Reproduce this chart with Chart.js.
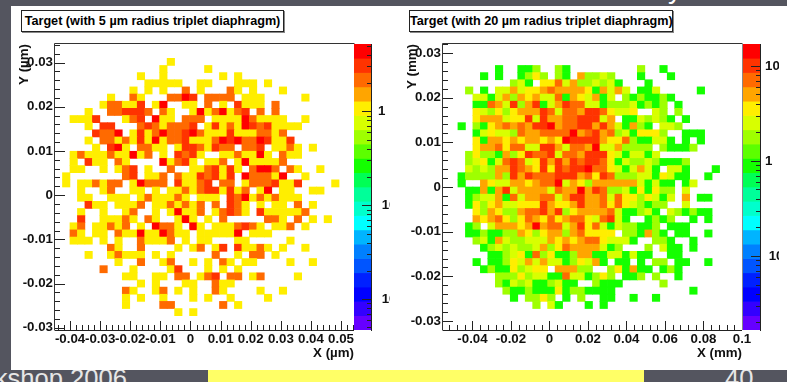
<!DOCTYPE html>
<html>
<head>
<meta charset="utf-8">
<title>Target</title>
<script src="https://cdn.jsdelivr.net/npm/chart.js@4"></script>
<style>
html, body { margin: 0; padding: 0; width: 787px; height: 382px; overflow: hidden; background: #54555f; font-family: "Liberation Sans", sans-serif; }
canvas { position: absolute; }
.panel { position: absolute; left: 11px; top: 6px; width: 776px; height: 364px; background: #fff; }
.box { position: absolute; top: 10px; height: 20px; line-height: 20px; border: 1px solid #222; box-shadow: 1px 1px 0 #888; background: #fff; font-weight: bold; font-size: 12.65px; color: #000; white-space: nowrap; text-align: center; }
.foot { position: absolute; top: 363px; font-size: 25.6px; line-height: 30px; color: #e6e6e6; white-space: nowrap; }
.strip { position: absolute; left: 208px; top: 369px; width: 436px; height: 13px; background: #ffff66; }
.top { position: absolute; left: 668px; top: -26px; font-size: 28px; line-height: 30px; color: #fff; }
</style>
</head>
<body>
<div class="top">y</div>
<div class="foot" style="right:660px">kshop 2006</div>
<div class="foot" style="left:725px">40</div>
<div class="strip"></div>
<div class="panel"></div>
<div class="box" style="left:21px;width:261px">Target (with 5 µm radius triplet diaphragm)</div>
<div class="box" style="left:409px;width:262px">Target (with 20 µm radius triplet diaphragm)</div>
<canvas id="heatLeft" width="360" height="364" style="left:11px;top:6px"></canvas>
<canvas id="barLeft" width="36" height="364" style="left:354px;top:6px"></canvas>
<canvas id="heatRight" width="360" height="364" style="left:400px;top:6px"></canvas>
<canvas id="barRight" width="36" height="364" style="left:743px;top:6px"></canvas>
<script>
// counts per bin, top row first, one char per column ('.' = empty, hex digit = count)
const leftRows = [
    '.......... .......... .......... ..........',
    '.......... .......... .......... ..........',
    '.......... .....1.... .......... ..........',
    '.......... ....1..... 1......... ..........',
    '.......... .1..1..... ..1.1..... ..........',
    '.......... ..11111..1 1...111.1. ..........',
    '.......... 1.1.1..2.1 ...21.1... 1.........',
    '.......1.. 21...2243. 2222.111.. ...1......',
    '......1221 13.14..11. 2.1.3111.2 ..........',
    '....1..223 332.21..14 124123.2.2 ..........',
    '..1113...1 23.411.222 .111142111 1..1......',
    '....1.33.. .23212223. 1312143231 111.......',
    '.....3224. 1312422342 1113111221 2.........',
    '....1.2212 1314122311 1243422431 13........',
    '.....1.341 .2211.1332 1322.223.1 121.1.....',
    '..12111211 412.1.3231 ..1121141. 211.......',
    '..1.311.21 ....41231. 112.141111 2.........',
    '..11..1.12 3.1..2..11 23131.2442 .21..1....',
    '.1.......2 3.112.2113 2313.42221 4..1......',
    '.1.112122. 14222.3112 3.22.12223 113....1..',
    '...1..12.. 11.1.11212 331312.14. 11..11....',
    '...11..111 .1211121.1 11.3241212 111.......',
    '....311.11 12.1121212 .2.321.1.1 1.2.1.....',
    '...1..1..1 2..1.14112 .12321.311 1112......',
    '...3..1112 1.21..141. 1.2.....22 1.2.1.1...',
    '..12.11212 .1.4221.41 .1112321.1 12.1......',
    '..21.11.21 14114211.1 11114.111. ..........',
    '..111.1.1. .21112.1.1 1...11.... .1........',
    '.......21. .2....1.12 .13.31121. 1..1......',
    '....1..121 11.1.1.... .2..1.22.1 ..........',
    '........1. .2..12..1. 1.21.11... .1..1.....',
    '......2... 1....13... 1.1.1..... ..........',
    '.........1 1..11.22.1 23.22.12.. ..1.......',
    '.......... .1.1...11. .211...... ..........',
    '.........2 1..12.1.1. .21....1.. 1.........',
    '.........1 .1..1...1. 1..1....1. ..........',
    '.........1 ....22.... ..2.1..... ..........',
    '.......... ......1.1. .......... ..........',
    '.......... .......... .......... ..........',
    '.......... .......... .......... ..........'
];
const rightRows = [
    '.......... .......... .......... ..........',
    '.......... .......... .......... ..........',
    '.......... .......... .......... ..........',
    '.......1.. 112..21... ......2..1 ..........',
    '.....1.1.. 1242.21.52 232...1... 1.........',
    '.........2 31.4473522 3231...1.. ..........',
    '...2.1.335 3445755554 15353.113. ....1.....',
    '....331352 5453371543 513.212112 1.........',
    '....117539 2591359773 3122231212 .1........',
    '....432424 5559737759 974334..32 .2........',
    '....455534 4939557799 935.113232 1.1.......',
    '..1.214575 7599d57799 59531521.3 32........',
    '....134332 7557777d57 9572314442 ..111.....',
    '....415545 455454d999 9544721133 1.1.1.....',
    '....455747 7339953775 d3352222.2 1112......',
    '...2422152 4977937759 994313313. ..........',
    '...2341379 7349595979 9741322321 112.......',
    '...3232559 754949799d 774313531. 331...1...',
    '..12222529 5977799957 4972223314 311..1....',
    '..1..54335 54577d3542 5555553131 1.13......',
    '...1151593 55553755d5 9722314142 2.3.......',
    '...1233517 3557735995 5737442431 3.5.11....',
    '...1424533 4449544595 5747432122 ..3.......',
    '....425422 5779592455 557311231. 321211....',
    '....545742 4754745774 37931..121 2..1.1....',
    '...12.3555 45d5773594 731322112. 111.......',
    '...1121122 5424552574 444.221521 .11..1....',
    '....231532 2333545457 743331..22 1..1......',
    '.....12323 2235247555 5312...2.3 11.1......',
    '......1123 4172411255 11331311.. 11........',
    '....1.1124 3535331243 51.11.1.22 .11..1....',
    '.....12114 2344.55522 ..241511.1 21........',
    '.......222 4233117331 242.112.2. .1........',
    '.......213 23112311.. 2111.....2 ..........',
    '........21 1211141221 111....... ...1......',
    '.........1 .2242.1.2. .11..1..1. ..........',
    '.......... ..2.31...1 .1........ ..........',
    '.......... .......... .......... ..........',
    '.......... .......... .......... ..........',
    '.......... .......... .......... ..........'
];

const leftXTicks = [-0.04, -0.03, -0.02, -0.01, 0, 0.01, 0.02, 0.03, 0.04, 0.05];
const leftXLabels = ['-0.04', '-0.03', '-0.02', '-0.01', '0', '0.01', '0.02', '0.03', '0.04', '0.05'];
const rightXTicks = [-0.04, -0.02, 0, 0.02, 0.04, 0.06, 0.08, 0.1];
const rightXLabels = ['-0.04', '-0.02', '0', '0.02', '0.04', '0.06', '0.08', '0.1'];
const yTicks = [-0.03, -0.02, -0.01, 0, 0.01, 0.02, 0.03];
const yLabels = ['-0.03', '-0.02', '-0.01', '0', '0.01', '0.02', '0.03'];

// the exponents of the 10s are cut off by the edge of the colour bar pad
const leftZTicks = [0.01, 0.1, 1];
const leftZLabels = [' 10', ' 10', '1'];
const rightZTicks = [0.1, 1, 10];
const rightZLabels = [' 10', '1', '10'];

// root rainbow palette, top of the colour bar first
const palette = ['#ff0000', '#ff3300', '#ff6a00', '#ffa500', '#ffee00', '#d8ff00', '#9fff00', '#5cff00', '#14ff00', '#00ff55',
    '#00ff99', '#00ffcc', '#00ffff', '#00b4ff', '#0080ff', '#0055ff', '#0020ff', '#0000ff', '#3300ff', '#6600ff'];

const font = { family: '"Liberation Sans", sans-serif', size: 13.3, weight: 'bold' };

function levelOf(v, zMin, zMax) {
    const f = (Math.log10(zMax) - Math.log10(v)) / (Math.log10(zMax) - Math.log10(zMin));
    return Math.min(palette.length - 1, Math.floor(f * palette.length));
}

// inward tick marks and the frame, placed with the chart's own scales
const innerTicks = {
    id: 'innerTicks',
    afterDatasetsDraw(chart, args, opts) {
        const { ctx, chartArea: a } = chart;
        ctx.save();
        ctx.strokeStyle = '#222';
        ctx.lineWidth = 1;
        for (const m of opts.marks) {
            const s = chart.scales[m.axis];
            for (const [values, len] of [[m.major, m.majorLen], [m.minor, m.minorLen]]) {
                for (const v of values) {
                    const p = Math.round(s.getPixelForValue(v)) + 0.5;
                    ctx.beginPath();
                    if (m.axis === 'x') {
                        ctx.moveTo(p, a.bottom);
                        ctx.lineTo(p, a.bottom - len);
                    } else if (m.side === 'right') {
                        ctx.moveTo(a.right, p);
                        ctx.lineTo(a.right - len, p);
                    } else {
                        ctx.moveTo(a.left, p);
                        ctx.lineTo(a.left + len, p);
                    }
                    ctx.stroke();
                }
            }
        }
        if (opts.frame) {
            ctx.strokeStyle = '#333';
            ctx.beginPath();
            ctx.moveTo(a.left - 0.5, a.bottom + 0.5);
            ctx.lineTo(a.left - 0.5, a.top - 0.5);
            ctx.lineTo(a.right + 0.5, a.top - 0.5);
            ctx.stroke();
            ctx.strokeStyle = '#888';
            ctx.lineWidth = 2;
            ctx.beginPath();
            ctx.moveTo(a.right + 1, a.top);
            ctx.lineTo(a.right + 1, a.bottom);
            ctx.stroke();
            ctx.strokeStyle = '#222';
            ctx.lineWidth = 1;
            ctx.beginPath();
            ctx.moveTo(a.left, a.bottom + 0.5);
            ctx.lineTo(a.right, a.bottom + 0.5);
            ctx.stroke();
        }
        ctx.restore();
    }
};

function minorTicks(min, max, step) {
    const out = [];
    const first = Math.ceil(min / step);
    for (let i = first; i * step <= max; i++) out.push(i * step);
    return out;
}

function setTicks(values, labels) {
    return {
        afterBuildTicks(scale) { scale.ticks = values.map(v => ({ value: v })); },
        callback(value, index) { return labels[index]; }
    };
}

function heatmap(id, cfg) {
    const binX = (cfg.xMax - cfg.xMin) / 40;
    const binY = (cfg.yMax - cfg.yMin) / 40;
    const cells = [];
    const colors = [];
    cfg.rows.forEach((row, r) => {
        row.replace(/ /g, '').split('').forEach((ch, c) => {
            if (ch === '.') return;
            cells.push({
                x: cfg.xMin + (c + 0.5) * binX,
                y: [cfg.yMax - (r + 1) * binY, cfg.yMax - r * binY]
            });
            colors.push(palette[levelOf(parseInt(ch, 16), cfg.zMin, cfg.zMax)]);
        });
    });
    const xt = setTicks(cfg.xTicks, cfg.xLabels);
    const yt = setTicks(yTicks, yLabels);
    return new Chart(document.getElementById(id), {
        type: 'bar',
        data: {
            datasets: [{
                data: cells,
                backgroundColor: colors,
                borderWidth: 0,
                barThickness: cfg.barSize,
                grouped: false
            }]
        },
        options: {
            responsive: false,
            animation: false,
            devicePixelRatio: 1,
            layout: { autoPadding: false, padding: { top: 38, right: cfg.padRight, left: 0, bottom: 0 } },
            plugins: {
                legend: { display: false },
                tooltip: { enabled: false },
                innerTicks: {
                    frame: true,
                    marks: [
                        { axis: 'x', major: cfg.xTicks, minor: minorTicks(cfg.xMin, cfg.xMax, cfg.xMinor), majorLen: 9, minorLen: 5 },
                        { axis: 'y', major: yTicks, minor: minorTicks(cfg.yMin, cfg.yMax, 0.002), majorLen: 10, minorLen: 5 }
                    ]
                }
            },
            scales: {
                x: {
                    type: 'linear',
                    offset: false,
                    min: cfg.xMin,
                    max: cfg.xMax,
                    grid: { display: false, drawTicks: false },
                    border: { display: false },
                    afterBuildTicks: xt.afterBuildTicks,
                    afterFit(scale) { scale.height = 40; },
                    ticks: { callback: xt.callback, autoSkip: false, maxRotation: 0, padding: 1, color: '#111', font },
                    title: { display: true, text: cfg.xTitle, align: 'end', color: '#111', font, padding: { top: 0, bottom: 9 } }
                },
                y: {
                    type: 'linear',
                    min: cfg.yMin,
                    max: cfg.yMax,
                    grid: { display: false, drawTicks: false },
                    border: { display: false },
                    afterBuildTicks: yt.afterBuildTicks,
                    afterFit(scale) { scale.width = cfg.axisWidth; },
                    ticks: { callback: yt.callback, autoSkip: false, padding: 2, color: '#111', font },
                    title: { display: true, text: cfg.yTitle, align: 'end', color: '#111', font, padding: { top: cfg.yTitlePad, bottom: 0 } }
                }
            }
        },
        plugins: [innerTicks]
    });
}

function colorBar(id, cfg) {
    const lo = Math.log10(cfg.zMin);
    const hi = Math.log10(cfg.zMax);
    const bands = palette.map((c, i) => [
        Math.pow(10, hi - (i + 1) * (hi - lo) / palette.length),
        Math.pow(10, hi - i * (hi - lo) / palette.length)
    ]);
    const zt = setTicks(cfg.ticks, cfg.labels);
    const minor = [];
    for (const base of [0.001, 0.01, 0.1, 1, 10]) {
        for (const k of [2, 3, 4, 5, 6, 7, 8, 9]) {
            if (base * k > cfg.zMin && base * k < cfg.zMax) minor.push(base * k);
        }
    }
    return new Chart(document.getElementById(id), {
        type: 'bar',
        data: {
            labels: [''],
            datasets: bands.map((b, i) => ({
                data: [b],
                backgroundColor: palette[i],
                borderWidth: 0,
                grouped: false,
                barPercentage: 1,
                categoryPercentage: 1
            }))
        },
        options: {
            responsive: false,
            animation: false,
            devicePixelRatio: 1,
            layout: { autoPadding: false, padding: { top: 38, bottom: 40, left: 0, right: 0 } },
            plugins: {
                legend: { display: false },
                tooltip: { enabled: false },
                innerTicks: {
                    frame: false,
                    marks: [{ axis: 'y', side: 'right', major: cfg.ticks, minor, majorLen: 9, minorLen: 4 }]
                }
            },
            scales: {
                x: { display: false },
                y: {
                    type: 'logarithmic',
                    position: 'right',
                    min: cfg.zMin,
                    max: cfg.zMax,
                    grid: { display: false, drawTicks: false },
                    border: { display: true, color: '#222', width: 1 },
                    afterBuildTicks: zt.afterBuildTicks,
                    afterFit(scale) { scale.width = cfg.axisWidth; },
                    ticks: { callback: zt.callback, autoSkip: false, padding: cfg.labelPad, color: '#111', font }
                }
            }
        },
        plugins: [innerTicks]
    });
}

const leftZ = { zMin: 0.0047, zMax: 5.2 };
const rightZ = { zMin: 0.0166, zMax: 17 };

heatmap('heatLeft', {
    rows: leftRows, xMin: -0.045, xMax: 0.0543, yMin: -0.0305, yMax: 0.0342,
    xTicks: leftXTicks, xLabels: leftXLabels, xMinor: 0.002,
    xTitle: 'X (µm)', yTitle: 'Y (µm)', barSize: 7.45, axisWidth: 44, yTitlePad: 5, padRight: 17,
    zMin: leftZ.zMin, zMax: leftZ.zMax
});
colorBar('barLeft', { ...leftZ, ticks: leftZTicks, labels: leftZLabels, axisWidth: 19, labelPad: 7 });

heatmap('heatRight', {
    rows: rightRows, xMin: -0.0553, xMax: 0.1, yMin: -0.032, yMax: 0.032,
    xTicks: rightXTicks, xLabels: rightXLabels, xMinor: 0.004,
    xTitle: 'X (mm)', yTitle: 'Y (mm)', barSize: 7.5, axisWidth: 43, yTitlePad: 4.5, padRight: 18,
    zMin: rightZ.zMin, zMax: rightZ.zMax
});
colorBar('barRight', { ...rightZ, ticks: rightZTicks, labels: rightZLabels, axisWidth: 19, labelPad: 5 });
</script>
</body>
</html>
